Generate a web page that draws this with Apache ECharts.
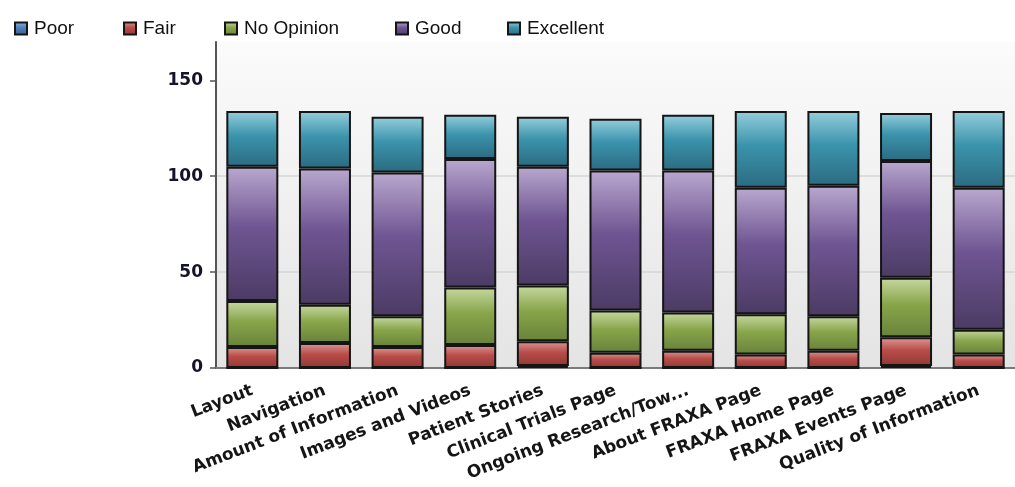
<!DOCTYPE html>
<html>
<head>
<meta charset="utf-8">
<script src="https://cdn.jsdelivr.net/npm/echarts@6/dist/echarts.min.js"></script>
<style>
  html, body { margin: 0; padding: 0; background: #ffffff; }
  #chart { width: 1015px; height: 487px; }
</style>
</head>
<body>
<div id="chart"></div>
<script>
// Survey ratings per website area (stacked response counts)
const categories = [
  'Layout', 'Navigation', 'Amount of Information', 'Images and Videos',
  'Patient Stories', 'Clinical Trials Page', 'Ongoing Research/Tow...',
  'About FRAXA Page', 'FRAXA Home Page', 'FRAXA Events Page', 'Quality of Information'
];
const poor      = [0, 0, 0, 0, 1, 0, 0, 0, 0, 1, 0];
const fair      = [11, 13, 11, 12, 13, 8, 9, 7, 9, 15, 7];
const noOpinion = [24, 20, 16, 30, 29, 22, 20, 21, 18, 31, 13];
const good      = [70, 71, 75, 67, 62, 73, 74, 66, 68, 61, 74];
const excellent = [29, 30, 29, 23, 26, 27, 29, 40, 39, 25, 40];
const yTicks = [0, 50, 100, 150];

const seriesNames = ['Poor', 'Fair', 'No Opinion', 'Good', 'Excellent'];
const seriesData = [poor, fair, noOpinion, good, excellent];

// light top / base / dark bottom for each series
const palette = [
  ['#93b3da', '#4f81bd', '#375f8e'],
  ['#dc9896', '#b94d49', '#923835'],
  ['#c6d8a0', '#88a54a', '#68823a'],
  ['#b9a8cf', '#6f5592', '#4b3b64'],
  ['#95cedd', '#3b93ac', '#2b6b81']
];

function shade(c) {
  return new echarts.graphic.LinearGradient(0, 0, 0, 1, [
    { offset: 0, color: c[0] },
    { offset: 0.45, color: c[1] },
    { offset: 1, color: c[2] }
  ]);
}

const LEGEND_FONT = '"Liberation Sans", Arial, sans-serif';
const AXIS_FONT = '"DejaVu Sans", Verdana, sans-serif';

const legendLefts = [14, 123, 224, 395, 507];
const legends = seriesNames.map((n, i) => ({
  data: [n],
  left: legendLefts[i],
  top: 19,
  padding: 0,
  itemWidth: 12,
  itemHeight: 12,
  itemGap: 0,
  icon: 'rect',
  textStyle: { fontFamily: LEGEND_FONT, fontSize: 19, color: '#111', padding: [0, 0, 0, 2] },
  selectedMode: false
}));

const series = seriesNames.map((n, i) => ({
  name: n,
  type: 'bar',
  stack: 'total',
  barWidth: 52,
  data: seriesData[i],
  itemStyle: {
    color: shade(palette[i]),
    borderColor: '#151515',
    borderWidth: 2
  },
  emphasis: { disabled: true }
}));

const chart = echarts.init(document.getElementById('chart'), null, { renderer: 'canvas' });
chart.setOption({
  animation: false,
  backgroundColor: '#ffffff',
  legend: legends,
  grid: {
    left: 216, right: -8, top: 42, bottom: 119,
    show: true,
    borderWidth: 0,
    backgroundColor: new echarts.graphic.LinearGradient(0, 0, 0, 1, [
      { offset: 0, color: '#fbfbfb' },
      { offset: 1, color: '#e4e4e4' }
    ])
  },
  xAxis: {
    type: 'category',
    data: categories,
    axisLine: { lineStyle: { color: '#7a7a7a', width: 2 } },
    axisTick: { alignWithLabel: true, length: 6, lineStyle: { color: '#7a7a7a', width: 1.5 } },
    axisLabel: {
      interval: 0,
      rotate: 21,
      margin: 22,
      fontFamily: AXIS_FONT,
      fontWeight: 'bold',
      fontSize: 17,
      color: '#151515'
    }
  },
  yAxis: {
    type: 'value',
    min: 0,
    max: 170,
    interval: 50,
    axisLine: { show: true, lineStyle: { color: '#555555', width: 2 } },
    axisTick: { show: true, length: 6, customValues: yTicks, lineStyle: { color: '#555555', width: 1.5 } },
    axisLabel: {
      customValues: yTicks,
      margin: 13,
      fontFamily: AXIS_FONT,
      fontWeight: 'bold',
      fontSize: 17,
      color: '#14142a'
    },
    splitLine: { showMaxLine: false, lineStyle: { color: '#d6d6d6', width: 1.5 } }
  },
  series: series
});
</script>
</body>
</html>
